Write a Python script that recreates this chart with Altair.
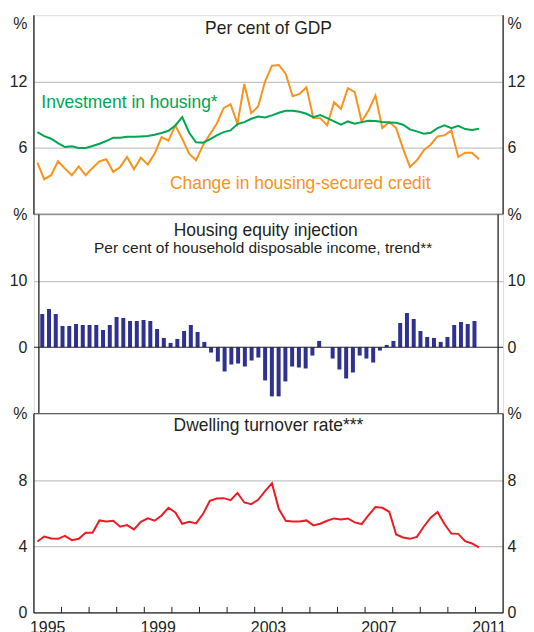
import altair as alt
import pandas as pd

# ---------------- data (quarterly, 1995Q1 - 2011Q1) ----------------
quarter_labels = [f"{1995 + i // 4}Q{i % 4 + 1}" for i in range(65)]

housing_investment = [
    7.44, 7.08, 6.84, 6.45, 6.09, 6.15, 6.0, 6.0, 6.18, 6.39,
    6.63, 6.93, 6.93, 7.02, 7.02, 7.05, 7.08, 7.2, 7.35, 7.56,
    8.04, 8.79, 7.38, 6.51, 6.48, 6.78, 7.14, 7.44, 7.59, 8.16,
    8.34, 8.64, 8.85, 8.76, 8.95, 9.18, 9.36, 9.36, 9.27, 9.09,
    8.79, 8.97, 8.7, 8.4, 8.1, 8.4, 8.19, 8.34, 8.46, 8.43,
    8.34, 8.31, 8.28, 8.1, 7.68, 7.5, 7.29, 7.38, 7.8, 8.04,
    7.8, 8.01, 7.71, 7.62, 7.74,
]
credit_change = [
    4.68, 3.18, 3.54, 4.8, 4.14, 3.54, 4.35, 3.54, 4.2, 4.8,
    4.98, 3.84, 4.29, 5.19, 4.08, 5.13, 4.5, 5.49, 6.99, 6.66,
    8.04, 6.84, 5.49, 4.89, 6.24, 7.23, 8.19, 9.6, 9.96, 8.19,
    11.79, 9.15, 9.75, 12.0, 13.44, 13.5, 12.69, 10.68, 10.89, 11.49,
    8.7, 8.7, 8.04, 10.14, 9.54, 11.4, 11.04, 8.4, 9.39, 10.74,
    7.8, 8.34, 7.8, 5.94, 4.29, 4.89, 5.79, 6.3, 7.05, 7.14,
    7.59, 5.19, 5.58, 5.58, 4.98,
]
equity_injection = [
    5.0, 5.75, 5.0, 3.2, 3.2, 3.5, 3.35, 3.35, 3.35, 2.6,
    3.35, 4.55, 4.4, 3.95, 3.95, 4.1, 3.95, 2.75, 1.4, 0.65,
    1.25, 2.45, 3.35, 2.3, 0.8, -0.8, -2.15, -3.65, -2.6, -2.45,
    -2.9, -2.0, -1.55, -5.0, -7.4, -7.4, -5.15, -2.9, -3.05, -3.2,
    -1.25, 0.95, 0.0, -1.7, -3.35, -4.7, -3.8, -1.25, -1.7, -2.3,
    -0.5, 0.35, 0.95, 3.65, 5.15, 4.25, 2.45, 1.55, 1.4, 0.8,
    1.55, 3.35, 3.8, 3.5, 3.95,
]
turnover_rate = [
    4.3, 4.6, 4.48, 4.46, 4.64, 4.38, 4.46, 4.82, 4.82, 5.57,
    5.5, 5.55, 5.19, 5.29, 5.03, 5.49, 5.69, 5.55, 5.87, 6.33,
    6.05, 5.37, 5.49, 5.39, 5.95, 6.75, 6.89, 6.91, 6.79, 7.22,
    6.65, 6.55, 6.81, 7.34, 7.8, 6.25, 5.55, 5.51, 5.51, 5.57,
    5.27, 5.37, 5.55, 5.69, 5.63, 5.69, 5.45, 5.35, 5.89, 6.37,
    6.33, 6.09, 4.72, 4.54, 4.46, 4.58, 5.19, 5.73, 6.07, 5.35,
    4.78, 4.76, 4.32, 4.18, 3.94,
]

year_ticks = list(range(1996, 2012))
year_labels = [1995, 1999, 2003, 2007, 2011]


def qpos(label):
    y, q = label.split("Q")
    return int(y) + (int(q) - 0.5) / 4


df = pd.DataFrame({
    "quarter": quarter_labels,
    "t": [qpos(q) for q in quarter_labels],
    "investment": housing_investment,
    "credit": credit_change,
    "equity": equity_injection,
    "turnover": turnover_rate,
})
ticks_df = pd.DataFrame({"year": year_ticks})
labels_df = pd.DataFrame({"pos": [y + 0.5 for y in year_labels],
                          "label": [str(y) for y in year_labels]})

# ---------------- styling ----------------
DARK = "#231f20"
GRID = "#c4c4c4"
GREEN = "#00a651"
ORANGE = "#f7941d"
NAVY = "#2e3192"
RED = "#ed1c24"
FONT = "Liberation Sans"
W, H = 471, 200
X0, X1 = 1995, 2012
TITLE_SIZE = 17.5

xs = alt.Scale(domain=[X0, X1], nice=False, zero=False)


def y_axis(vals, top, orient, baseline_top=False):
    kw = dict(
        values=vals, title=None, orient=orient, ticks=False, domain=False,
        labelExpr=f"datum.value === {top} ? '%' : datum.label",
        labelFontSize=16, labelFont=FONT, labelColor=DARK,
        labelPadding=7 if orient == "left" else 4,
    )
    if baseline_top:
        kw["labelBaseline"] = {"condition": {"test": f"datum.value === {top}", "value": "top"},
                               "value": "middle"}
    if orient == "left":
        kw["grid"] = True
        kw["gridColor"] = {"condition": {"test": f"datum.value === {top} || datum.value === 0",
                                         "value": "transparent"}, "value": GRID}
        kw["gridWidth"] = 1.2
    else:
        kw["grid"] = False
    return alt.Axis(**kw)


def note(text, x, y, yscale, color, size, align="center"):
    return alt.Chart(pd.DataFrame({"label": [text]})).mark_text(
        align=align, baseline="middle", color=color, fontSize=size, font=FONT
    ).encode(
        x=alt.XDatum(x, scale=xs, axis=None),
        y=alt.YDatum(y, scale=yscale, axis=None),
        text="label:N",
    )


def borders(yscale, ymin, ymax):
    one = pd.DataFrame({"a": [0]})
    left = alt.Chart(one).mark_rule(color=DARK, strokeWidth=1.3).encode(
        x=alt.XDatum(X0, scale=xs, axis=None),
        y=alt.YDatum(ymin, scale=yscale, axis=None),
        y2=alt.Y2Datum(ymax))
    right = alt.Chart(one).mark_rule(color=DARK, strokeWidth=1.3).encode(
        x=alt.XDatum(X1, scale=xs, axis=None),
        y=alt.YDatum(ymin, scale=yscale, axis=None),
        y2=alt.Y2Datum(ymax))
    bottom = alt.Chart(one).mark_rule(color=DARK, strokeWidth=1.3).encode(
        y=alt.YDatum(ymin, scale=yscale, axis=None))
    return [left, right, bottom]


base = alt.Chart(df)

# ---------------- top panel ----------------
top_scale = alt.Scale(domain=[0, 18], nice=False, zero=False)
top_vals = [6, 12, 18]
credit_line = base.mark_line(color=ORANGE, strokeWidth=2).encode(
    x=alt.X("t:Q", scale=xs, axis=None),
    y=alt.Y("credit:Q", scale=top_scale, axis=y_axis(top_vals, 18, "left", True)),
)
inv_line = base.mark_line(color=GREEN, strokeWidth=2).encode(
    x=alt.X("t:Q", scale=xs, axis=None),
    y=alt.Y("investment:Q", scale=top_scale, axis=None),
)
top_right = base.mark_line(opacity=0).encode(
    x=alt.X("t:Q", scale=xs, axis=None),
    y=alt.Y("credit:Q", scale=top_scale, axis=y_axis(top_vals, 18, "right", True)),
)
top_panel = alt.layer(
    credit_line, inv_line, top_right, *borders(top_scale, 0, 18),
    note("Per cent of GDP", 2003.5, 16.75, top_scale, DARK, TITLE_SIZE),
    note("Investment in housing*", 1995.27, 10.1, top_scale, GREEN, TITLE_SIZE, "left"),
    note("Change in housing-secured credit", 2004.65, 2.75, top_scale, ORANGE, TITLE_SIZE),
).resolve_axis(y="independent").properties(width=W, height=H)

# ---------------- middle panel ----------------
mid_scale = alt.Scale(domain=[-10, 20], nice=False, zero=False)
mid_vals = [0, 10, 20]
bars = base.mark_bar(color=NAVY, size=4).encode(
    x=alt.X("t:Q", scale=xs, axis=None),
    y=alt.Y("equity:Q", scale=mid_scale, axis=y_axis(mid_vals, 20, "left")),
)
mid_right = base.mark_bar(opacity=0).encode(
    x=alt.X("t:Q", scale=xs, axis=None),
    y=alt.Y("equity:Q", scale=mid_scale, axis=y_axis(mid_vals, 20, "right")),
)
zero_rule = alt.Chart(pd.DataFrame({"z": [0]})).mark_rule(color=DARK, strokeWidth=1.2).encode(
    y=alt.Y("z:Q", scale=mid_scale, axis=None)
)
mid_panel = alt.layer(
    bars, mid_right, zero_rule, *borders(mid_scale, -10, 20),
    note("Housing equity injection", 2003.4, 17.5, mid_scale, DARK, TITLE_SIZE),
    note("Per cent of household disposable income, trend**", 2003.3, 14.95, mid_scale, DARK, 15.5),
).resolve_axis(y="independent").properties(width=W, height=H)

# ---------------- bottom panel ----------------
bot_scale = alt.Scale(domain=[0, 12], nice=False, zero=False)
bot_vals = [0, 4, 8, 12]
turn_line = base.mark_line(color=RED, strokeWidth=2).encode(
    x=alt.X("t:Q", scale=xs, axis=None),
    y=alt.Y("turnover:Q", scale=bot_scale, axis=y_axis(bot_vals, 12, "left")),
)
bot_right = base.mark_line(opacity=0).encode(
    x=alt.X("t:Q", scale=xs, axis=None),
    y=alt.Y("turnover:Q", scale=bot_scale, axis=y_axis(bot_vals, 12, "right")),
)
year_tick_marks = alt.Chart(ticks_df).mark_rule(color=DARK, strokeWidth=1).encode(
    x=alt.X("year:Q", scale=xs, axis=None),
    y=alt.value(H),
    y2=alt.value(H - 6),
)
year_text = alt.Chart(labels_df).mark_text(
    baseline="top", fontSize=16, font=FONT, color=DARK
).encode(
    x=alt.X("pos:Q", scale=xs, axis=None),
    y=alt.value(H + 7),
    text="label:N",
)
bot_panel = alt.layer(
    turn_line, bot_right, year_tick_marks, year_text, *borders(bot_scale, 0, 12),
    note("Dwelling turnover rate***", 2003.5, 11.25, bot_scale, DARK, TITLE_SIZE),
).resolve_axis(y="independent").properties(width=W, height=H)

chart = alt.vconcat(
    top_panel, mid_panel, bot_panel, spacing=0, bounds="flush"
).properties(
    padding={"left": 0, "top": 4, "right": 0, "bottom": 0}
).configure_view(stroke=None).configure(background="white")

chart.save("out.html", embed_options={"renderer": "svg", "actions": False})
